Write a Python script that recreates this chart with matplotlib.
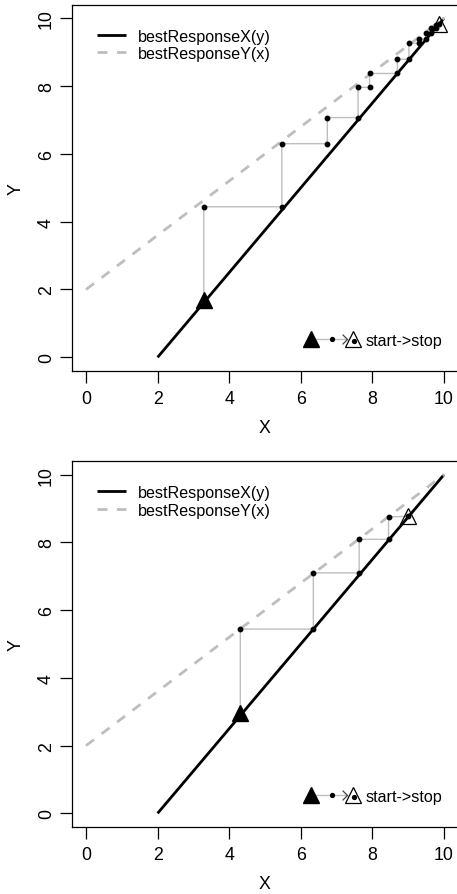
import matplotlib
matplotlib.use("Agg")
import matplotlib.pyplot as plt
from matplotlib.legend_handler import HandlerBase
from matplotlib.lines import Line2D
from matplotlib.path import Path

plt.rcParams["font.family"] = ["Liberation Sans", "DejaVu Sans"]

# best-response curves (straight lines)
brx_x = [2, 10]
brx_y = [0, 10]
bry_x = [0, 10]
bry_y = [2, 10]

# iteration path, first run
top_x = [3.29, 3.29, 5.47, 5.47, 6.74, 6.74, 7.60, 7.60, 7.92, 7.92, 8.70, 8.70,
         9.02, 9.02, 9.31, 9.31, 9.49, 9.49, 9.64, 9.64, 9.79, 9.79, 9.86]
top_y = [1.70, 4.44, 4.44, 6.30, 6.30, 7.07, 7.07, 7.96, 7.96, 8.37, 8.37, 8.79,
         8.79, 9.26, 9.26, 9.38, 9.38, 9.57, 9.57, 9.70, 9.70, 9.80, 9.84]

# iteration path, second run
bot_x = [4.31, 4.31, 6.35, 6.35, 7.63, 7.63, 8.45, 8.45, 8.99]
bot_y = [2.95, 5.44, 5.44, 7.10, 7.10, 8.09, 8.09, 8.75, 8.77]

ticks = [0, 2, 4, 6, 8, 10]
GRAY = "#BEBEBE"
TRI = 12


class StartStopHandler(HandlerBase):
    # filled triangle -> dot -> open triangle, like the path markers
    def create_artists(self, legend, orig_handle, xdescent, ydescent,
                       width, height, fontsize, trans):
        y = height / 2 - ydescent
        x0 = -xdescent
        xa = x0 + 0.14 * width
        xm = x0 + 0.50 * width
        xc = x0 + 0.76 * width
        xb = x0 + 0.86 * width
        chevron = Path([(-1, 1), (0, 0), (-1, -1)],
                       [Path.MOVETO, Path.LINETO, Path.LINETO])
        arts = [
            Line2D([xa, xc], [y, y], color=GRAY, lw=1),
            Line2D([xa], [y], marker="^", ms=TRI, color="black", ls="none"),
            Line2D([xm], [y], marker="o", ms=2.8, color="black", ls="none"),
            Line2D([xc], [y], marker=chevron, ms=7, mfc="none", mec="#444444",
                   mew=0.9, ls="none"),
            Line2D([xb], [y], marker="^", ms=TRI, mfc="white", mec="black",
                   mew=0.9, ls="none"),
            Line2D([xb + 1.0], [y - 1.5], marker="o", ms=2.8, color="black",
                   ls="none"),
        ]
        for a in arts:
            a.set_transform(trans)
        return arts


def draw_panel(ax, px, py):
    l1, = ax.plot(brx_x, brx_y, color="black", lw=2.0,
                  label="bestResponseX(y)", solid_capstyle="butt")
    l2, = ax.plot(bry_x, bry_y, color=GRAY, lw=2.0, dashes=(3.6, 3.4),
                  label="bestResponseY(x)")
    ax.plot(px, py, color=GRAY, lw=1.0, zorder=3)
    ax.plot(px[1:], py[1:], "o", color="black", ms=3.2, zorder=4)
    ax.plot(px[:1], py[:1], "^", color="black", ms=TRI, zorder=5)
    ax.plot(px[-1:], py[-1:], "^", mfc="none", mec="black", mew=0.9,
            ms=TRI, zorder=5)

    ax.set_xlim(-0.4, 10.4)
    ax.set_ylim(-0.4, 10.4)
    ax.set_xticks(ticks)
    ax.set_yticks(ticks)
    ax.tick_params(direction="out", length=8.5, width=0.9, labelsize=12.8,
                   colors="black")
    ax.tick_params(axis="x", pad=5.5)
    ax.tick_params(axis="y", pad=3.5, labelrotation=90)
    for lab in ax.get_yticklabels():
        lab.set_va("center")
    for s in ax.spines.values():
        s.set_linewidth(0.9)

    ax.set_xlabel("X", fontsize=12.8, va="center")
    ax.set_ylabel("Y", fontsize=12.8, va="center", ha="center")
    ax.xaxis.set_label_coords(0.5, -0.155)
    ax.yaxis.set_label_coords(-0.144, 0.5)

    leg1 = ax.legend(handles=[l1, l2], loc="upper left", frameon=False,
                     fontsize=11.6, handlelength=1.75, handletextpad=0.75,
                     labelspacing=0.15, borderaxespad=0.0,
                     bbox_to_anchor=(0.05, 0.952))
    ax.add_artist(leg1)
    ax.legend(handles=[Line2D([], [])], labels=["start->stop"],
              handler_map={Line2D: StartStopHandler()},
              loc="lower right", frameon=False, fontsize=11.6,
              handlelength=3.6, handletextpad=0.3, borderaxespad=0.0,
              bbox_to_anchor=(0.975, 0.046))


fig = plt.figure(figsize=(4.57, 8.95), dpi=100)
ax1 = fig.add_axes([0.1569, 0.5845, 0.846, 0.4092])
ax2 = fig.add_axes([0.1569, 0.0750, 0.846, 0.4087])
draw_panel(ax1, top_x, top_y)
draw_panel(ax2, bot_x, bot_y)

fig.savefig("out.png", dpi=100)
